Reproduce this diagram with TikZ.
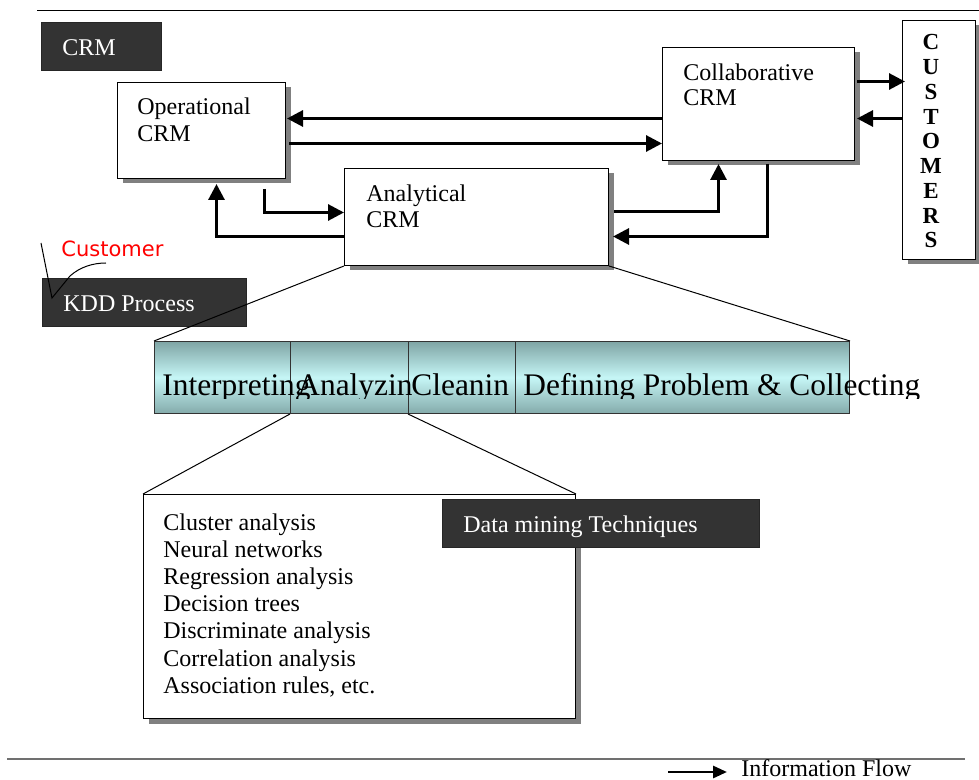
\documentclass[tikz,border=0pt]{standalone}
\usepackage{fontspec}
\setmainfont{Liberation Serif}
\newfontfamily\handfont{DejaVu Sans}
\usetikzlibrary{arrows.meta,shadows}
\definecolor{darkbox}{HTML}{333333}
\definecolor{shadowgray}{HTML}{808080}
\definecolor{barTop}{HTML}{7FA5A5}
\definecolor{barMid}{HTML}{C6F6F6}
\definecolor{barBot}{HTML}{84ABAB}
\definecolor{rulegray}{HTML}{707070}

\begin{document}
\begin{tikzpicture}[x=0.5pt,y=-0.5pt,
  panel/.style={draw=black, line width=0.5pt, fill=white, rectangle, inner sep=0pt,
    anchor=north west,
    drop shadow={shadow xshift=2.5pt, shadow yshift=-2.5pt, fill=shadowgray, opacity=1}},
  tag/.style={draw=black!85, line width=0.5pt, fill=darkbox, rectangle, inner sep=0pt,
    anchor=north west, minimum height=24pt},
  cell/.style={draw=black!80, line width=0.5pt, rectangle, inner sep=0pt,
    anchor=north west, minimum height=36pt,
    top color=barTop, bottom color=barBot, middle color=barMid},
  txt/.style={inner sep=0pt, anchor=base west, font=\fontsize{12}{14}\selectfont},
  tagtxt/.style={txt, text=white},
  bartxt/.style={inner sep=0pt, anchor=base west, font=\fontsize{15.7}{18}\selectfont},
  custtxt/.style={inner sep=0pt, anchor=base, font=\fontsize{11.5}{13}\selectfont\bfseries},
  flow/.style={line width=1.5pt, -{Triangle[length=8pt,width=8pt]}},
  legendflow/.style={line width=1.4pt, -{Triangle[length=7pt,width=6pt]}},
  thin/.style={line width=0.5pt, black},
]
\useasboundingbox (0,0) rectangle (979,780);

% page rules
\draw[thin] (37,11) -- (979,11);
\draw[line width=0.75pt, rulegray] (7,759) -- (965,759);

% title tags
\node[tag, minimum width=60pt] (crmtag) at (41,22) {};
\node[tagtxt] (crmtagtxt) at (62,56) {CRM};

% CRM components
\node[panel, minimum width=84pt, minimum height=48pt] (op) at (117,82) {};
\node[txt] (optxt1) at (137,115) {Operational};
\node[txt] (optxt2) at (137,142) {CRM};

\node[panel, minimum width=132pt, minimum height=48.5pt] (ana) at (344,168) {};
\node[txt] (anatxt1) at (366,202) {Analytical};
\node[txt] (anatxt2) at (366,228) {CRM};

\node[panel, minimum width=96pt, minimum height=56.5pt] (collab) at (662,47) {};
\node[txt] (coltxt1) at (683,81) {Collaborative};
\node[txt] (coltxt2) at (683,106) {CRM};

\node[panel, minimum width=36.5pt, minimum height=119.5pt] (cust) at (902,20) {};
\foreach \ch [count=\i from 0] in {C,U,S,T,O,M,E,R,S}
  \node[custtxt] (cust\i) at (931,50+24.75*\i) {\ch};

% information flows between the components
\draw[flow] ([yshift=-7.25pt]collab.west) -- ([xshift=0.5pt,yshift=6pt]op.east);
\draw[flow] ([xshift=1.5pt,yshift=-6.5pt]op.east) -- ([yshift=-19.75pt]collab.west);
\draw[flow] ([xshift=31.5pt,yshift=-5pt]op.south) |- ([yshift=2.25pt]ana.west);
\draw[flow] ([yshift=-9.75pt]ana.west) -| ([xshift=7.5pt,yshift=-2.5pt]op.south);
\draw[flow] ([xshift=2.5pt,yshift=2.75pt]ana.east) -| ([xshift=-20pt,yshift=-1.5pt]collab.south);
\draw[flow] ([xshift=4.5pt,yshift=-1.5pt]collab.south) |- ([xshift=2pt,yshift=-9.75pt]ana.east);
\draw[flow] ([xshift=1pt,yshift=11.25pt]collab.east) -- ([xshift=1.5pt,yshift=29.25pt]cust.west);
\draw[flow] ([yshift=10.75pt]cust.west) -- ([xshift=1pt,yshift=-7.25pt]collab.east);

% handwritten note
\node[inner sep=0pt, anchor=base west, text=red, font=\handfont\fontsize{10.5}{12}\selectfont] (note) at (61,257) {Customer};

% KDD process tag and bar
\node[tag, minimum width=102pt] (kddtag) at (42,278) {};
\node[tagtxt] (kddtxt) at (63,312) {KDD Process};

\coordinate (tick1) at (41,243);
\coordinate (tick2) at (52,298);
\coordinate (tick3) at (70,276);
\coordinate (tick4) at (106,263);
\draw[line width=0.5pt] (tick1) -- (tick2) -- (tick3) .. controls (80,267) and (93,263) .. (tick4);

\node[cell, minimum width=68pt] (seg1) at (154,341) {};
\node[cell, minimum width=59pt] (seg2) at (290,341) {};
\node[cell, minimum width=53.5pt] (seg3) at (408,341) {};
\node[cell, minimum width=167pt] (seg4) at (515,341) {};

\draw[thin] (ana.south west) -- (seg1.north west);
\draw[thin] (ana.south east) -- (seg4.north east);

\begin{scope}
  \clip (0,330) rectangle (979,398);
  \node[bartxt] (kdd1) at (162,395) {Interpreting};
  \node[bartxt] (kdd2) at (297,395) {Analyzin};
  \node[bartxt] (kdd3) at (411,395) {Cleanin};
  \node[bartxt] (kdd4) at (523,395) {Defining Problem \& Collecting};
\end{scope}

% data mining techniques
\node[panel, minimum width=216pt, minimum height=112pt] (dm) at (143,494) {};
\draw[thin] (seg2.south west) -- (dm.north west);
\draw[thin] (seg3.south west) -- (dm.north east);

\foreach \t [count=\i from 0] in {Cluster analysis, Neural networks, Regression analysis,
    Decision trees, Discriminate analysis, Correlation analysis, {Association rules, etc.}}
  \node[txt] (dmi\i) at (163,530+27.2*\i) {\t};

\node[tag, minimum width=158.5pt] (dmtag) at (442,499) {};
\node[tagtxt] (dmtagtxt) at (463,532) {Data mining Techniques};

% legend
\coordinate (lgA) at (668,772);
\coordinate (lgB) at (727,772);
\draw[legendflow] (lgA) -- (lgB);
\node[txt] (lg) at (741,776) {Information Flow};
\end{tikzpicture}
\end{document}
